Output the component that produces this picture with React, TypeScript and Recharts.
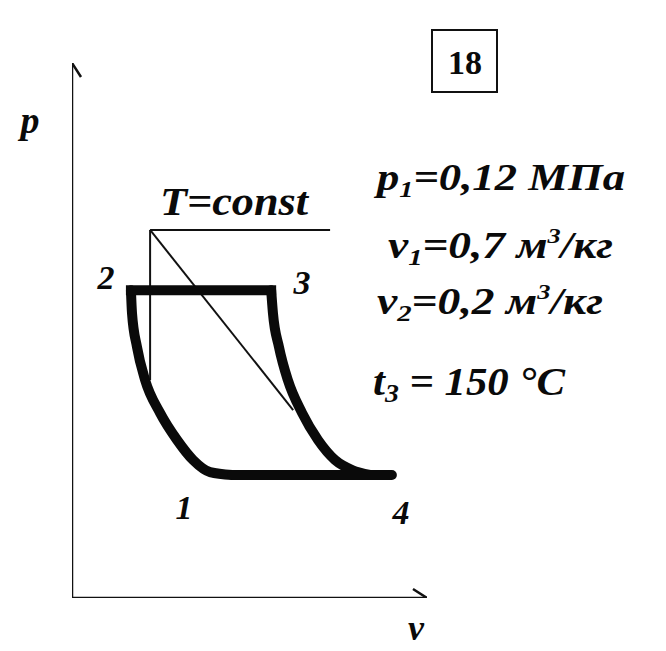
import { ComposedChart, Line, XAxis, YAxis } from "recharts";

// schematic units: v along the abscissa, p along the ordinate
const vAxisV = [0, 10];
const pAxisP = [0, 15];

// thick cycle 1-2-3-4
const curve21V = [1.66, 1.69, 1.83, 2.06, 2.48, 2.96, 3.41, 3.89, 4.51];
const curve21P = [8.63, 7.99, 7.04, 6.11, 5.19, 4.43, 3.87, 3.53, 3.45];
const line23V = [1.66, 5.61];
const line23P = [8.63, 8.63];
const curve34V = [5.61, 5.66, 5.83, 6.08, 6.48, 6.93, 7.41, 7.89, 8.39];
const curve34P = [8.63, 7.99, 7.04, 6.11, 5.19, 4.43, 3.87, 3.59, 3.45];
const line41V = [4.51, 9.01];
const line41P = [3.45, 3.45];

// thin construction lines (T=const)
const isoTopV = [2.2, 7.27];
const isoTopP = [10.32, 10.32];
const isoVertV = [2.2, 2.2];
const isoVertP = [10.32, 6.11];
const diagV = [2.2, 6.23];
const diagP = [10.32, 5.27];

const W = 666;
const H = 651;
const FONT = '"Liberation Serif", "Times New Roman", Times, Tinos, "Noto Serif", "DejaVu Serif", serif';

const rows = (vs: number[], ps: number[]) => vs.map((v, i) => ({ v, p: ps[i] }));

const arrowDot = (dir: "right" | "up") => (props: any) => {
  const { cx, cy, index } = props;
  if (index !== 1) return <g key={`a-${dir}-${index}`} />;
  const d =
    dir === "right"
      ? `M${cx - 14},${cy - 9} L${cx},${cy} L${cx - 14},${cy + 9}`
      : `M${cx - 9},${cy + 14} L${cx},${cy} L${cx + 9},${cy + 14}`;
  return <path key={`a-${dir}`} d={d} fill="none" stroke="#111" strokeWidth={2.5} />;
};

export default function App() {
  const thick = { stroke: "#0a0a0a", strokeWidth: 10, dot: false, isAnimationActive: false, strokeLinecap: "round" as const, strokeLinejoin: "round" as const };
  const thin = { stroke: "#111", strokeWidth: 2, dot: false, isAnimationActive: false };

  return (
    <div style={{ position: "absolute", left: 0, top: 0, width: W, height: H, background: "#fff" }}>
      <ComposedChart width={W} height={H} margin={{ top: 63, right: 239, bottom: 53, left: 72 }}>
        <XAxis type="number" dataKey="v" domain={[0, 10]} hide allowDataOverflow />
        <YAxis type="number" dataKey="p" domain={[0, 15]} hide allowDataOverflow />
        <Line data={rows(vAxisV, [0, 0])} dataKey="p" stroke="#111" strokeWidth={2.5} isAnimationActive={false} dot={arrowDot("right")} />
        <Line data={rows([0, 0], pAxisP)} dataKey="p" stroke="#111" strokeWidth={2.5} isAnimationActive={false} dot={arrowDot("up")} />
        <Line data={rows(isoTopV, isoTopP)} dataKey="p" {...thin} />
        <Line data={rows(isoVertV, isoVertP)} dataKey="p" {...thin} />
        <Line data={rows(diagV, diagP)} dataKey="p" {...thin} />
        <Line data={rows(curve21V, curve21P)} dataKey="p" type="monotone" {...thick} />
        <Line data={rows(line23V, line23P)} dataKey="p" {...thick} strokeLinecap="square" />
        <Line data={rows(curve34V, curve34P)} dataKey="p" type="monotone" {...thick} />
        <Line data={rows(line41V, line41P)} dataKey="p" {...thick} />
      </ComposedChart>
      <svg width={W} height={H} style={{ position: "absolute", left: 0, top: 0, pointerEvents: "none" }}>
        <g fill="#0a0a0a" fontFamily={FONT} fontWeight="bold">
          <rect x={432} y={30} width={65} height={62} fill="none" stroke="#111" strokeWidth={2} />
          <text x={465} y={74} fontSize={34} textAnchor="middle">18</text>
          <g fontStyle="italic">
            <text x={30} y={133} fontSize={38} textAnchor="middle">p</text>
            <text x={416} y={640} fontSize={36} textAnchor="middle">v</text>
            <text x={160} y={215} fontSize={40} textLength={148} lengthAdjust="spacingAndGlyphs">T=const</text>
            <text x={106} y={289} fontSize={34} textAnchor="middle">2</text>
            <text x={302} y={294} fontSize={34} textAnchor="middle">3</text>
            <text x={184} y={519} fontSize={34} textAnchor="middle">1</text>
            <text x={401} y={524} fontSize={34} textAnchor="middle">4</text>
            <text x={377} y={190} fontSize={38} textLength={248} lengthAdjust="spacingAndGlyphs">
              p<tspan fontSize={24} dy={7}>1</tspan>
              <tspan dy={-7}>=0,12 МПа</tspan>
            </text>
            <text x={388} y={258} fontSize={38} textLength={225} lengthAdjust="spacingAndGlyphs">
              v<tspan fontSize={24} dy={7}>1</tspan>
              <tspan dy={-7}>=0,7 м</tspan>
              <tspan fontSize={22} dy={-15}>3</tspan>
              <tspan dy={15}>/кг</tspan>
            </text>
            <text x={377} y={314} fontSize={38} textLength={226} lengthAdjust="spacingAndGlyphs">
              v<tspan fontSize={24} dy={7}>2</tspan>
              <tspan dy={-7}>=0,2 м</tspan>
              <tspan fontSize={22} dy={-15}>3</tspan>
              <tspan dy={15}>/кг</tspan>
            </text>
            <text x={373} y={395} fontSize={40} textLength={192} lengthAdjust="spacingAndGlyphs">
              t<tspan fontSize={26} dy={7}>3</tspan>
              <tspan dy={-7}> = 150 °C</tspan>
            </text>
          </g>
        </g>
      </svg>
    </div>
  );
}
